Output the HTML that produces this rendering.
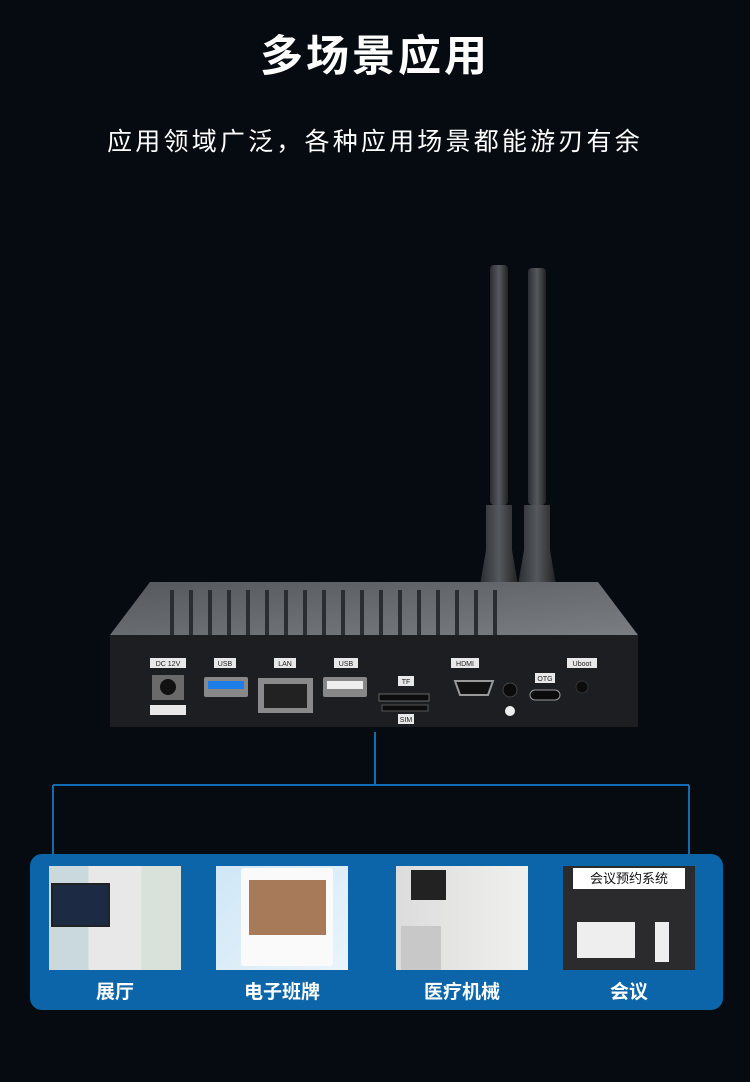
<!DOCTYPE html>
<html><head><meta charset="utf-8"><style>
body{margin:0;width:750px;height:1082px;background:#060b12;overflow:hidden;position:relative;font-family:"Liberation Sans","Noto Sans CJK SC",sans-serif;color:#fff}
.t{position:absolute;left:0;width:750px;text-align:center}
.box{position:absolute;left:30px;top:854px;width:693px;height:156px;background:#0b65a8;border-radius:12px}
.img{position:absolute;top:866px;width:132px;height:104px}
.lab{position:absolute;top:977px;width:132px;text-align:center;font-size:19px;font-weight:bold}
</style></head><body>
<div class="t" style="top:22px;font-size:43px;font-weight:bold;letter-spacing:3px">多场景应用</div>
<div class="t" style="top:122px;font-size:25px;letter-spacing:3.2px">应用领域广泛，各种应用场景都能游刃有余</div>
<svg width="750" height="1082" style="position:absolute;left:0;top:0">
<defs><linearGradient id="ant" x1="0" x2="1"><stop offset="0" stop-color="#2a2d31"/><stop offset=".5" stop-color="#55595e"/><stop offset="1" stop-color="#222"/></linearGradient>
<linearGradient id="top" y1="0" y2="1"><stop offset="0" stop-color="#55595e"/><stop offset="1" stop-color="#7a7e82"/></linearGradient></defs>
<rect x="490" y="265" width="18" height="240" rx="4" fill="url(#ant)"/>
<rect x="528" y="268" width="18" height="237" rx="4" fill="url(#ant)"/>
<path d="M486 505h26v45l6 35h-38l6-35z" fill="url(#ant)"/>
<path d="M524 505h26v45l6 35h-38l6-35z" fill="url(#ant)"/>
<polygon points="150,582 598,582 638,635 110,635" fill="url(#top)"/>
<g fill="#2a2d31">
<rect x="170" y="590" width="4" height="47"/><rect x="189" y="590" width="4" height="47"/><rect x="208" y="590" width="4" height="47"/><rect x="227" y="590" width="4" height="47"/><rect x="246" y="590" width="4" height="47"/><rect x="265" y="590" width="4" height="47"/><rect x="284" y="590" width="4" height="47"/><rect x="303" y="590" width="4" height="47"/><rect x="322" y="590" width="4" height="47"/><rect x="341" y="590" width="4" height="47"/><rect x="360" y="590" width="4" height="47"/><rect x="379" y="590" width="4" height="47"/><rect x="398" y="590" width="4" height="47"/><rect x="417" y="590" width="4" height="47"/><rect x="436" y="590" width="4" height="47"/><rect x="455" y="590" width="4" height="47"/><rect x="474" y="590" width="4" height="47"/><rect x="493" y="590" width="4" height="47"/></g>
<rect x="110" y="635" width="528" height="92" fill="#1c1e21"/>
<g fill="#e8e8e8">
<rect x="150" y="658" width="36" height="10"/><rect x="214" y="658" width="22" height="10"/><rect x="274" y="658" width="22" height="10"/><rect x="334" y="658" width="24" height="10"/><rect x="451" y="658" width="28" height="10"/><rect x="535" y="673" width="20" height="10"/><rect x="567" y="658" width="30" height="10"/><rect x="398" y="676" width="16" height="10"/><rect x="398" y="714" width="16" height="10"/><rect x="150" y="705" width="36" height="10"/>
</g>
<g fill="#222" font-size="7" text-anchor="middle" font-family="Liberation Sans">
<text x="168" y="666">DC 12V</text><text x="225" y="666">USB</text><text x="285" y="666">LAN</text><text x="346" y="666">USB</text><text x="465" y="666">HDMI</text><text x="545" y="681">OTG</text><text x="582" y="666">Uboot</text><text x="406" y="684">TF</text><text x="406" y="722">SIM</text></g>
<rect x="152" y="675" width="32" height="25" fill="#6a6a6a"/><circle cx="168" cy="687" r="8" fill="#111"/>
<rect x="204" y="677" width="44" height="20" rx="2" fill="#888"/><rect x="208" y="681" width="36" height="8" fill="#1e7ee8"/>
<rect x="258" y="678" width="55" height="35" fill="#8a8a8a"/><rect x="264" y="684" width="43" height="24" fill="#222"/>
<rect x="323" y="677" width="44" height="20" rx="2" fill="#888"/><rect x="327" y="681" width="36" height="8" fill="#eee"/>
<rect x="379" y="694" width="50" height="7" fill="#0c0c0c" stroke="#666"/><rect x="382" y="705" width="46" height="6" fill="#0c0c0c" stroke="#555"/>
<path d="M455 681h38l-5 14h-28z" fill="#111" stroke="#999" stroke-width="2"/>
<circle cx="510" cy="690" r="7" fill="#0b0b0b" stroke="#444"/><circle cx="510" cy="711" r="5" fill="#eee"/>
<rect x="530" y="690" width="30" height="10" rx="5" fill="#0b0b0b" stroke="#999"/>
<circle cx="582" cy="687" r="6" fill="#0c0c0c" stroke="#333"/>
<g fill="none" stroke="#0f6cb5" stroke-width="2">
<path d="M375 732v53M53 785h636M53 785v70M689 785v70"/></g>
</svg>
<div class="box"></div>
<div class="img" style="left:49px;background:linear-gradient(90deg,#c9d9dd 0 30%,#e8e8e8 30% 70%,#d8e2da 70%)"><div style="position:absolute;left:2px;top:17px;width:55px;height:40px;background:#1c2a44;border:2px solid #222"></div></div>
<div class="img" style="left:216px;background:linear-gradient(135deg,#cfe7f7,#eaf4fb)"><div style="position:absolute;left:25px;top:2px;width:92px;height:98px;background:#fafafa;border-radius:3px"></div><div style="position:absolute;left:33px;top:14px;width:77px;height:55px;background:#a77a5a"></div></div>
<div class="img" style="left:396px;background:linear-gradient(90deg,#dcdcdc,#f0f0ef)"><div style="position:absolute;left:15px;top:4px;width:35px;height:30px;background:#222"></div><div style="position:absolute;left:5px;top:60px;width:40px;height:44px;background:#c8c8c8"></div></div>
<div class="img" style="left:563px;background:#2b2b2d"><div style="position:absolute;left:10px;top:2px;width:112px;height:21px;background:#fff;color:#111;font-size:13px;text-align:center;line-height:21px">会议预约系统</div><div style="position:absolute;left:14px;top:56px;width:58px;height:36px;background:#eee"></div><div style="position:absolute;left:92px;top:56px;width:14px;height:40px;background:#eee"></div></div>
<div class="lab" style="left:49px">展厅</div>
<div class="lab" style="left:216px">电子班牌</div>
<div class="lab" style="left:396px">医疗机械</div>
<div class="lab" style="left:563px">会议</div>
</body></html>
